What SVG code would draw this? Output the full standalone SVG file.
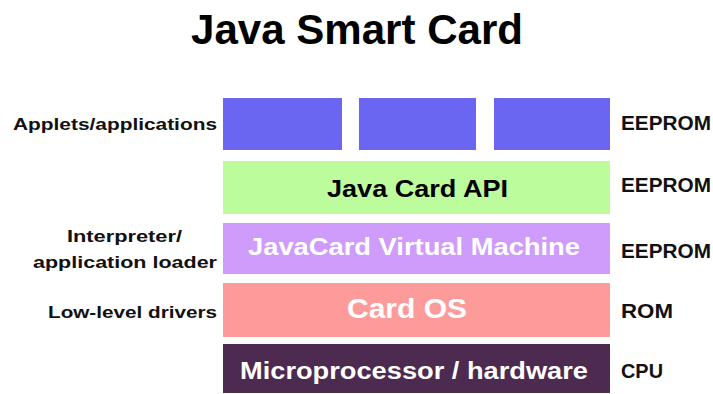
<svg xmlns="http://www.w3.org/2000/svg" width="713" height="394" viewBox="0 0 713 394">
<style>
text { font-family: "Liberation Sans", Arial, sans-serif; font-weight: bold; }
.lbl { font-size: 17px; fill: #111; }
.mem { font-size: 20px; fill: #111; }
.inner { font-size: 23px; }
</style>
<rect width="713" height="394" fill="#ffffff"/>
<text x="191" y="44" font-size="42" textLength="332" lengthAdjust="spacingAndGlyphs" fill="#000">Java Smart Card</text>

<g id="applets">
  <rect x="223" y="98" width="119" height="52" fill="#6b66f2"/>
  <rect x="359" y="98" width="117" height="52" fill="#6b66f2"/>
  <rect x="494" y="98" width="116" height="52" fill="#6b66f2"/>
  <text class="lbl" x="217" y="130" text-anchor="end" textLength="204" lengthAdjust="spacingAndGlyphs">Applets/applications</text>
  <text class="mem" x="621" y="130" textLength="90" lengthAdjust="spacingAndGlyphs">EEPROM</text>
</g>
<g id="api">
  <rect x="223" y="161" width="387" height="53" fill="#bdfc9d"/>
  <text class="inner" x="327" y="197" fill="#000" textLength="181" lengthAdjust="spacingAndGlyphs">Java Card API</text>
  <text class="mem" x="621" y="192" textLength="90" lengthAdjust="spacingAndGlyphs">EEPROM</text>
</g>
<g id="jvm">
  <rect x="223" y="223" width="387" height="51" fill="#cf9cfc"/>
  <text class="inner" x="248" y="255" fill="#fff" textLength="332" lengthAdjust="spacingAndGlyphs">JavaCard Virtual Machine</text>
  <text class="lbl" x="124.5" y="242" text-anchor="middle" textLength="115" lengthAdjust="spacingAndGlyphs">Interpreter/</text>
  <text class="lbl" x="217" y="268" text-anchor="end" textLength="184" lengthAdjust="spacingAndGlyphs">application loader</text>
  <text class="mem" x="621" y="258" textLength="90" lengthAdjust="spacingAndGlyphs">EEPROM</text>
</g>
<g id="os">
  <rect x="223" y="283" width="387" height="54" fill="#fd9b9b"/>
  <text x="347" y="318" font-size="27" fill="#fff" textLength="120" lengthAdjust="spacingAndGlyphs">Card OS</text>
  <text class="lbl" x="217" y="318" text-anchor="end" textLength="169" lengthAdjust="spacingAndGlyphs">Low-level drivers</text>
  <text class="mem" x="621" y="318" textLength="52" lengthAdjust="spacingAndGlyphs">ROM</text>
</g>
<g id="cpu">
  <rect x="223" y="344" width="387" height="49" fill="#4d2a4f"/>
  <text class="inner" x="240" y="379" fill="#fff" textLength="348" lengthAdjust="spacingAndGlyphs">Microprocessor / hardware</text>
  <text class="mem" x="621" y="378" textLength="42" lengthAdjust="spacingAndGlyphs">CPU</text>
</g>
<g id="connectors"></g>
</svg>
